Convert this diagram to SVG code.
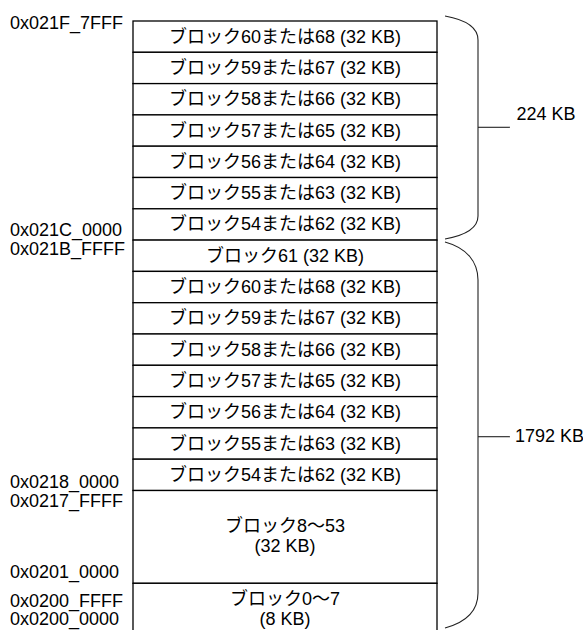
<svg xmlns="http://www.w3.org/2000/svg" width="583" height="630" viewBox="0 0 583 630">
<style>
text{font-family:"Liberation Sans","Noto Sans CJK JP",Arial,sans-serif;font-size:18px;fill:#000}
.c{text-anchor:middle}
.blk{fill:#fff;stroke:#000;stroke-width:1.3}
.br{fill:none;stroke:#222;stroke-width:1.1}
</style>
<rect width="583" height="630" fill="#fff"/>
<g id="addresses">
<text x="10" y="29">0x021F_7FFF</text>
<text x="10" y="236">0x021C_0000</text>
<text x="10" y="255">0x021B_FFFF</text>
<text x="10" y="488">0x0218_0000</text>
<text x="10" y="506.5">0x0217_FFFF</text>
<text x="10" y="578">0x0201_0000</text>
<text x="10" y="606.5">0x0200_FFFF</text>
<text x="10" y="625">0x0200_0000</text>
</g>
<g id="block-a60"><rect class="blk" x="133" y="21" width="304" height="31.3"/><text class="c" x="285" y="42.6">ブロック60または68 (32 KB)</text></g>
<g id="block-a59"><rect class="blk" x="133" y="52.3" width="304" height="31.3"/><text class="c" x="285" y="73.9">ブロック59または67 (32 KB)</text></g>
<g id="block-a58"><rect class="blk" x="133" y="83.6" width="304" height="31.3"/><text class="c" x="285" y="105.2">ブロック58または66 (32 KB)</text></g>
<g id="block-a57"><rect class="blk" x="133" y="114.9" width="304" height="31.3"/><text class="c" x="285" y="136.5">ブロック57または65 (32 KB)</text></g>
<g id="block-a56"><rect class="blk" x="133" y="146.2" width="304" height="31.3"/><text class="c" x="285" y="167.8">ブロック56または64 (32 KB)</text></g>
<g id="block-a55"><rect class="blk" x="133" y="177.5" width="304" height="31.3"/><text class="c" x="285" y="199.1">ブロック55または63 (32 KB)</text></g>
<g id="block-a54"><rect class="blk" x="133" y="208.8" width="304" height="31.3"/><text class="c" x="285" y="230.4">ブロック54または62 (32 KB)</text></g>
<g id="block-61"><rect class="blk" x="133" y="240.1" width="304" height="31.3"/><text class="c" x="285" y="261.7">ブロック61 (32 KB)</text></g>
<g id="block-b60"><rect class="blk" x="133" y="271.4" width="304" height="31.3"/><text class="c" x="285" y="293">ブロック60または68 (32 KB)</text></g>
<g id="block-b59"><rect class="blk" x="133" y="302.7" width="304" height="31.3"/><text class="c" x="285" y="324.3">ブロック59または67 (32 KB)</text></g>
<g id="block-b58"><rect class="blk" x="133" y="334" width="304" height="31.3"/><text class="c" x="285" y="355.6">ブロック58または66 (32 KB)</text></g>
<g id="block-b57"><rect class="blk" x="133" y="365.3" width="304" height="31.3"/><text class="c" x="285" y="386.9">ブロック57または65 (32 KB)</text></g>
<g id="block-b56"><rect class="blk" x="133" y="396.6" width="304" height="31.3"/><text class="c" x="285" y="418.2">ブロック56または64 (32 KB)</text></g>
<g id="block-b55"><rect class="blk" x="133" y="427.9" width="304" height="31.3"/><text class="c" x="285" y="449.5">ブロック55または63 (32 KB)</text></g>
<g id="block-b54"><rect class="blk" x="133" y="459.2" width="304" height="31.3"/><text class="c" x="285" y="480.8">ブロック54または62 (32 KB)</text></g>
<g id="block-8-53"><rect class="blk" x="133" y="490.5" width="304" height="92.8"/><text class="c" x="285" y="532">ブロック8〜53</text><text class="c" x="285" y="551.5">(32 KB)</text></g>
<g id="block-0-7"><rect class="blk" x="133" y="583.3" width="304" height="60"/><text class="c" x="285" y="605">ブロック0〜7</text><text class="c" x="285" y="624.5">(8 KB)</text></g>
<g id="connectors">
<path class="br" d="M445,16 Q478,22 478,40 L478,216 Q478,233 445,239"/>
<line class="br" x1="478" y1="127.3" x2="510" y2="127.3"/>
<path class="br" d="M445,242 C467,248 478,262 478,280 L478,593 C478,611 467,622 445,628"/>
<line class="br" x1="478" y1="436.7" x2="510" y2="436.7"/>
</g>
<g id="size-labels">
<text x="516.5" y="120">224 KB</text>
<text x="515" y="442">1792 KB</text>
</g>
</svg>
